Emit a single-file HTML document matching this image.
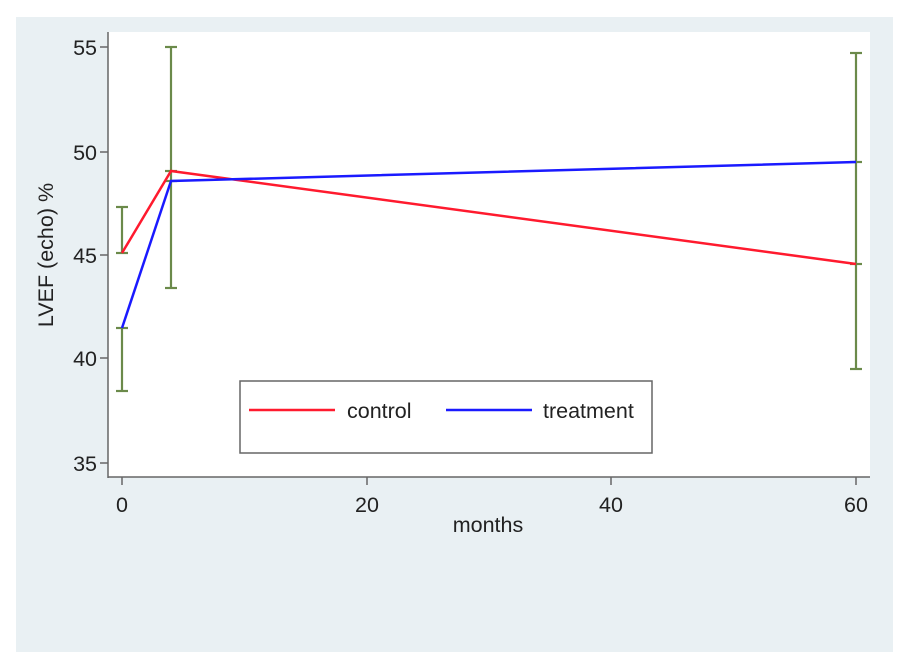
<!DOCTYPE html>
<html><head><style>body{margin:0;background:#fff}svg{display:block}</style></head><body>
<svg width="910" height="670" xmlns="http://www.w3.org/2000/svg" font-family="Liberation Sans, Arial, sans-serif">
<rect x="0" y="0" width="910" height="670" fill="#fff"/>
<rect x="16" y="17" width="877" height="635" fill="#e9f0f3"/>
<rect x="108" y="32" width="762" height="445" fill="#fff"/>
<g stroke="#666" stroke-width="1.5" fill="none">
<line x1="108" y1="32" x2="108" y2="478"/>
<line x1="108" y1="477" x2="870" y2="477"/>
<line x1="100" y1="47" x2="108" y2="47"/><line x1="100" y1="152" x2="108" y2="152"/><line x1="100" y1="255" x2="108" y2="255"/><line x1="100" y1="358" x2="108" y2="358"/><line x1="100" y1="463" x2="108" y2="463"/>
<line x1="122" y1="477" x2="122" y2="485"/><line x1="367" y1="477" x2="367" y2="485"/><line x1="611" y1="477" x2="611" y2="485"/><line x1="856" y1="477" x2="856" y2="485"/>
</g>
<g font-size="21.5" fill="#222" text-anchor="end">
<text x="97" y="55">55</text><text x="97" y="160">50</text><text x="97" y="263">45</text><text x="97" y="366">40</text><text x="97" y="471">35</text>
</g>
<g font-size="21.5" fill="#222" text-anchor="middle">
<text x="122" y="512">0</text><text x="367" y="512">20</text><text x="611" y="512">40</text><text x="856" y="512">60</text>
<text x="488" y="532">months</text>
<text transform="translate(53,255) rotate(-90)">LVEF (echo) %</text>
</g>
<g stroke="#6b8a4a" stroke-width="2.2" fill="none">
<line x1="122" y1="207" x2="122" y2="253"/><line x1="116" y1="207" x2="128" y2="207"/><line x1="116" y1="253" x2="128" y2="253"/>
<line x1="122" y1="328" x2="122" y2="391"/><line x1="116" y1="328" x2="128" y2="328"/><line x1="116" y1="391" x2="128" y2="391"/>
<line x1="171" y1="47" x2="171" y2="288"/><line x1="165" y1="47" x2="177" y2="47"/><line x1="165" y1="171" x2="177" y2="171"/><line x1="165" y1="181" x2="177" y2="181"/><line x1="165" y1="288" x2="177" y2="288"/>
<line x1="856" y1="53" x2="856" y2="369"/><line x1="850" y1="53" x2="862" y2="53"/><line x1="850" y1="162" x2="862" y2="162"/><line x1="850" y1="264" x2="862" y2="264"/><line x1="850" y1="369" x2="862" y2="369"/>
</g>
<polyline points="122,253 171,171 856,264" stroke="#ff1a2e" stroke-width="2.5" fill="none"/>
<polyline points="122,328 171,181 856,162" stroke="#1a1aff" stroke-width="2.5" fill="none"/>
<rect x="240" y="381" width="412" height="72" fill="#fff" stroke="#666" stroke-width="1.5"/>
<line x1="249" y1="410" x2="335" y2="410" stroke="#ff1a2e" stroke-width="2.5"/>
<line x1="446" y1="410" x2="532" y2="410" stroke="#1a1aff" stroke-width="2.5"/>
<text x="347" y="418" font-size="21.5" fill="#222">control</text>
<text x="543" y="418" font-size="21.5" fill="#222">treatment</text>
</svg>
</body></html>
